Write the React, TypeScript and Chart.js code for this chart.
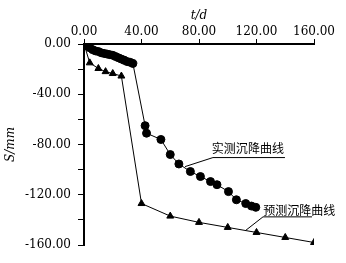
import React, { useEffect, useRef } from "react";
import { Chart, registerables } from "chart.js";

Chart.register(...registerables);

const measuredT = [0, 2, 4, 6, 8, 10, 12, 14, 16, 18, 20, 22, 24, 26, 28, 30, 32, 34, 42.5, 43.5, 53.5, 60, 66, 74, 81, 88, 92.5, 100.5, 106, 112.5, 116.5, 119.5];
const measuredS = [0, -1.5, -3, -4.5, -5.5, -6, -7, -7.5, -8, -8.5, -9, -10, -11, -12, -13, -14, -14.5, -15.5, -65, -71, -76, -88, -95.5, -101.5, -105.5, -109.5, -112, -117.5, -124, -127, -129, -130];
const predT = [0, 4, 10, 15, 20, 26, 40, 60, 80, 100, 120, 140, 160];
const predS = [0, -15, -19.5, -22, -23.5, -25.5, -127, -137, -142, -146, -150, -154, -158];

const measuredLabel = "实测沉降曲线";
const predLabel = "预测沉降曲线";
const xTitle = "t/d";
const yTitle = "S/mm";

// annotation anchors in data units: [leader start, elbow, end of underline], text centre
const measuredNote = { from: [70.3, -97.6], elbow: [89.7, -90.4], end: [139.8, -90.4], text: [114, -83.2] };
const predNote = { from: [112, -148.8], elbow: [124.5, -137.6], end: [158.6, -137.6], text: [149.7, -132.8] };

const FONT = "'DejaVu Serif', serif";

const notesPlugin = {
  id: "notes",
  afterDatasetsDraw(chart: any) {
    const { ctx, scales } = chart;
    const x = scales.x, y = scales.y;
    const draw = (n: any, label: string) => {
      ctx.save();
      ctx.strokeStyle = "#000";
      ctx.lineWidth = 1;
      ctx.beginPath();
      ctx.moveTo(x.getPixelForValue(n.from[0]), y.getPixelForValue(n.from[1]));
      ctx.lineTo(x.getPixelForValue(n.elbow[0]), y.getPixelForValue(n.elbow[1]));
      ctx.lineTo(x.getPixelForValue(n.end[0]), y.getPixelForValue(n.end[1]));
      ctx.stroke();
      ctx.fillStyle = "#000";
      ctx.font = "12px 'Noto Sans CJK SC'";
      ctx.textAlign = "center";
      ctx.textBaseline = "middle";
      ctx.fillText(label, x.getPixelForValue(n.text[0]), y.getPixelForValue(n.text[1]));
      ctx.restore();
    };
    draw(measuredNote, measuredLabel);
    draw(predNote, predLabel);
  },
};

export default function App() {
  const ref = useRef<HTMLCanvasElement>(null);
  useEffect(() => {
    const chart = new Chart(ref.current!, {
      type: "scatter",
      data: {
        datasets: [
          {
            label: measuredLabel,
            data: measuredT.map((t, i) => ({ x: t, y: measuredS[i] })),
            showLine: true,
            borderColor: "#000",
            backgroundColor: "#000",
            borderWidth: 1,
            pointStyle: "circle",
            pointRadius: 4,
          },
          {
            label: predLabel,
            data: predT.map((t, i) => ({ x: t, y: predS[i] })),
            showLine: true,
            borderColor: "#000",
            backgroundColor: "#000",
            borderWidth: 1,
            pointStyle: "triangle",
            pointRadius: 4,
          },
        ],
      },
      options: {
        animation: false,
        responsive: false,
        layout: { padding: { left: 0, right: 32, top: 0, bottom: 18 } },
        plugins: { legend: { display: false }, tooltip: { enabled: false } },
        scales: {
          x: {
            type: "linear",
            position: "top",
            min: 0,
            max: 160,
            afterFit: (s: any) => { s.height = 44; },
            ticks: {
              stepSize: 20,
              color: "#000",
              padding: 0,
              maxRotation: 0,
              font: { family: FONT, size: 12 },
              callback: (v: any) => (v % 40 === 0 ? Number(v).toFixed(2) : ""),
            },
            grid: { drawOnChartArea: false, tickLength: 5, color: "#000", lineWidth: 1 },
            border: { color: "#000", width: 2 },
            title: { display: true, text: xTitle, color: "#000", padding: { top: 9, bottom: 0 }, font: { family: FONT, size: 12, style: "italic" } },
          },
          y: {
            type: "linear",
            min: -160,
            max: 0,
            afterFit: (s: any) => { s.width = 84; },
            ticks: {
              stepSize: 20,
              color: "#000",
              padding: 7,
              font: { family: FONT, size: 12 },
              callback: (v: any) => (v % 40 === 0 ? Number(v).toFixed(2) : ""),
            },
            grid: { drawOnChartArea: false, tickLength: 6, color: "#000", lineWidth: 1 },
            border: { color: "#000", width: 2 },
            title: { display: true, text: yTitle, color: "#000", padding: { top: 4, bottom: 0 }, font: { family: FONT, size: 12, style: "italic" } },
          },
        },
      },
      plugins: [notesPlugin],
    } as any);
    return () => chart.destroy();
  }, []);
  return (
    <div style={{ position: "fixed", left: 0, top: 0, width: 346, height: 263, background: "#fff" }}>
      <canvas ref={ref} width={346} height={263} style={{ display: "block" }} />
    </div>
  );
}
